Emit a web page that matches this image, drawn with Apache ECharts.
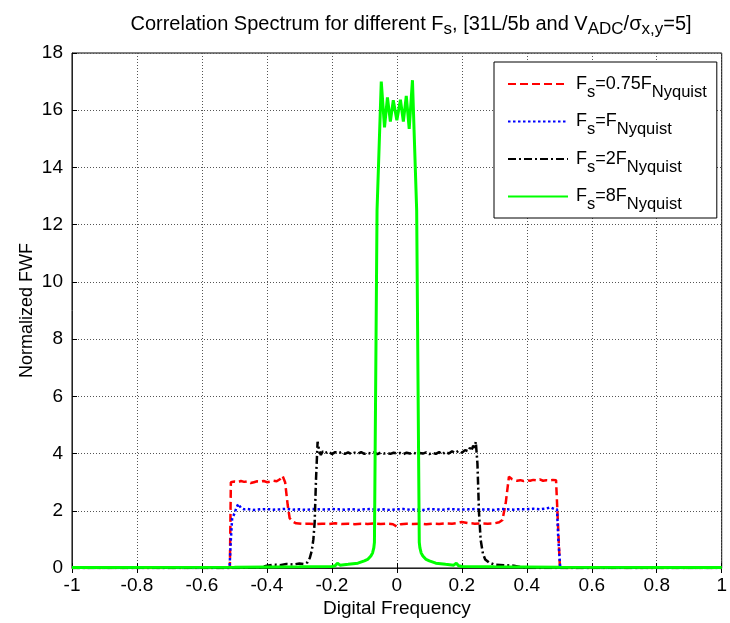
<!DOCTYPE html>
<html>
<head>
<meta charset="utf-8">
<script src="https://cdn.jsdelivr.net/npm/echarts@6/dist/echarts.min.js"></script>
<style>
html,body{margin:0;padding:0;background:#fff;}
#chart{width:730px;height:623px;}
</style>
</head>
<body>
<div id="chart"></div>
<script>
// ---- data (digital frequency, normalized FWF) ----
var xTicks = [-1, -0.8, -0.6, -0.4, -0.2, 0, 0.2, 0.4, 0.6, 0.8, 1];
var yTicks = [0, 2, 4, 6, 8, 10, 12, 14, 16, 18];

var seriesNames = ['Fs=0.75FNyquist', 'Fs=FNyquist', 'Fs=2FNyquist', 'Fs=8FNyquist'];
var legendLabels = [
  ['F', 's', '=0.75F', 'Nyquist'],
  ['F', 's', '=F', 'Nyquist'],
  ['F', 's', '=2F', 'Nyquist'],
  ['F', 's', '=8F', 'Nyquist']
];

var redPoints = [
  [-1,0],[-0.514,0],[-0.511,3.0],[-0.5,3.02],[-0.49,3.0],[-0.48,3.04],[-0.47,3.01],[-0.46,3.03],
  [-0.45,2.97],[-0.44,3.0],[-0.43,3.03],[-0.42,3.02],[-0.41,3.04],[-0.40,3.0],[-0.39,3.02],
  [-0.38,3.05],[-0.37,3.03],[-0.36,3.1],[-0.352,3.22],[-0.344,3.0],[-0.336,2.2],[-0.33,1.74],
  [-0.32,1.62],[-0.31,1.56],[-0.29,1.54],[-0.27,1.55],[-0.25,1.53],[-0.23,1.55],[-0.21,1.54],
  [-0.19,1.56],[-0.17,1.54],[-0.15,1.55],[-0.13,1.53],[-0.11,1.55],[-0.09,1.54],[-0.07,1.56],
  [-0.05,1.54],[-0.03,1.55],[-0.012,1.53],[0,1.45],[0.012,1.53],[0.03,1.55],[0.05,1.54],
  [0.07,1.55],[0.09,1.53],[0.11,1.55],[0.13,1.54],[0.15,1.56],[0.17,1.55],[0.19,1.58],
  [0.2,1.61],[0.22,1.57],[0.24,1.55],[0.26,1.56],[0.28,1.55],[0.3,1.56],[0.315,1.6],
  [0.325,1.68],[0.335,2.26],[0.345,3.19],[0.355,3.1],[0.37,3.05],[0.38,3.07],[0.39,3.04],
  [0.40,3.07],[0.41,3.05],[0.42,3.08],[0.43,3.06],[0.44,3.1],[0.45,3.05],[0.46,3.07],
  [0.47,3.06],[0.48,3.08],[0.49,3.07],[0.496,3.07],[0.502,0],[1,0]
];

var bluePoints = [
  [-1,0],[-0.515,0],[-0.511,1.0],[-0.507,1.74],[-0.5,1.9],[-0.494,2.1],[-0.488,2.24],[-0.48,2.1],
  [-0.47,2.05],[-0.46,2.06],[-0.44,2.03],[-0.42,2.05],[-0.40,2.06],[-0.38,2.04],[-0.36,2.05],
  [-0.34,2.07],[-0.32,2.04],[-0.30,2.05],[-0.28,2.03],[-0.26,2.06],[-0.24,2.05],[-0.22,2.04],
  [-0.20,2.06],[-0.18,2.05],[-0.16,2.04],[-0.14,2.06],[-0.12,2.03],[-0.10,2.05],[-0.08,2.06],
  [-0.06,2.04],[-0.04,2.05],[-0.02,2.03],[0,2.05],[0.02,2.06],[0.04,2.04],[0.06,2.05],
  [0.08,2.03],[0.10,2.06],[0.12,2.05],[0.14,2.04],[0.16,2.06],[0.18,2.05],[0.20,2.04],
  [0.22,2.05],[0.24,2.06],[0.26,2.04],[0.28,2.05],[0.30,2.03],[0.32,2.06],[0.34,2.05],
  [0.36,2.04],[0.38,2.06],[0.40,2.05],[0.42,2.07],[0.44,2.05],[0.46,2.08],[0.473,2.12],
  [0.485,2.06],[0.493,2.05],[0.497,1.0],[0.503,0],[1,0]
];

var blackPoints = [
  [-1,0],[-0.5,0],[-0.42,0.02],[-0.40,0.08],[-0.38,0.12],[-0.36,0.1],[-0.34,0.14],[-0.32,0.12],
  [-0.30,0.16],[-0.285,0.14],[-0.275,0.2],[-0.268,0.35],[-0.262,0.6],[-0.257,1.0],[-0.253,1.6],
  [-0.249,3.07],[-0.244,4.41],[-0.239,4.1],[-0.234,3.95],[-0.228,4.08],[-0.22,4.02],[-0.21,4.07],
  [-0.2,3.98],[-0.19,4.05],[-0.18,4.01],[-0.17,4.06],[-0.16,3.99],[-0.15,4.04],[-0.14,3.98],
  [-0.13,4.03],[-0.12,4.0],[-0.11,4.05],[-0.1,3.99],[-0.09,4.03],[-0.08,4.0],[-0.07,4.04],
  [-0.06,3.98],[-0.05,4.03],[-0.04,4.0],[-0.03,4.02],[-0.02,3.99],[-0.01,4.03],[0,4.0],
  [0.01,4.02],[0.02,3.98],[0.03,4.03],[0.04,4.0],[0.05,4.04],[0.06,3.99],[0.07,4.02],[0.08,4.0],
  [0.09,4.04],[0.1,3.98],[0.11,4.03],[0.12,3.99],[0.13,4.05],[0.14,3.97],[0.15,4.06],[0.16,4.0],
  [0.17,4.08],[0.18,4.02],[0.19,4.1],[0.2,4.03],[0.21,4.12],[0.22,4.08],[0.225,4.2],[0.23,4.12],
  [0.235,4.28],[0.239,4.2],[0.243,4.41],[0.248,3.66],[0.253,1.91],[0.258,0.98],[0.265,0.5],
  [0.272,0.3],[0.284,0.19],[0.3,0.12],[0.33,0.1],[0.36,0.08],[0.38,0.03],[0.4,0],[1,0]
];

var greenPoints = [
  [-1,0.02],[-0.5,0.03],[-0.3,0.04],[-0.2,0.05],[-0.19,0.08],[-0.183,0.17],[-0.175,0.1],
  [-0.15,0.13],[-0.12,0.17],[-0.1,0.25],[-0.09,0.3],[-0.08,0.42],[-0.075,0.52],[-0.071,0.7],
  [-0.069,0.9],[-0.061,12.5],[-0.048,17.0],[-0.038,15.4],[-0.029,16.45],[-0.02,15.6],
  [-0.011,16.35],[0,15.65],[0.011,16.37],[0.02,15.6],[0.029,16.5],[0.038,15.35],[0.048,17.05],
  [0.061,12.5],[0.069,0.9],[0.071,0.7],[0.075,0.52],[0.08,0.42],[0.09,0.3],[0.1,0.25],
  [0.12,0.17],[0.15,0.13],[0.175,0.1],[0.183,0.17],[0.19,0.08],[0.2,0.05],[0.3,0.04],
  [0.5,0.03],[1,0.02]
];

// ---- chart ----
var FONT = '"Liberation Sans", Arial, Helvetica, sans-serif';
var chart = echarts.init(document.getElementById('chart'), null, {renderer: 'canvas'});

var legendRich = {
  f: {fontSize: 18, fontFamily: FONT, color: '#000', padding: [0, 0, 0, 3]},
  m: {fontSize: 18, fontFamily: FONT, color: '#000'},
  s: {fontSize: 16.5, fontFamily: FONT, color: '#000', padding: [16, 0, 0, 0]}
};

function legendFmt(name) {
  var p = legendLabels[seriesNames.indexOf(name)];
  return '{f|' + p[0] + '}{s|' + p[1] + '}{m|' + p[2] + '}{s|' + p[3] + '}';
}

var axisLabelStyle = {fontSize: 19, fontFamily: FONT, color: '#000'};
var gridLineStyle = {color: '#555', width: 1, type: [1, 2]};

var option = {
  animation: false,
  backgroundColor: '#fff',
  title: {
    text: '{m|Correlation Spectrum for different F}{s|s}{m|, [31L/5b and V}{s|ADC}{m|/σ}{s|x,y}{m|=5]}',
    left: 406,
    top: 6,
    textAlign: 'center',
    textStyle: {
      fontWeight: 'normal',
      rich: {
        m: {fontSize: 20, fontFamily: FONT, fontWeight: 'normal', color: '#000'},
        s: {fontSize: 17, fontFamily: FONT, fontWeight: 'normal', color: '#000', padding: [10, 0, 0, 0]}
      }
    }
  },
  grid: {
    left: 72, right: 0, top: 53, bottom: 55,
    show: true, borderColor: '#000', borderWidth: 1, backgroundColor: '#fff'
  },
  legend: {
    data: seriesNames,
    orient: 'vertical',
    left: 494,
    top: 62,
    padding: [13, 10, 5, 13],
    itemWidth: 60,
    itemHeight: 14,
    itemGap: 12,
    backgroundColor: '#fff',
    borderColor: '#000',
    borderWidth: 1,
    borderRadius: 0,
    selectedMode: false,
    formatter: legendFmt,
    itemStyle: {opacity: 0, color: 'rgba(0,0,0,0)', borderWidth: 0},
    textStyle: {rich: legendRich}
  },
  xAxis: [{
    type: 'value', min: -1, max: 1, interval: 0.2,
    position: 'bottom',
    name: 'Digital Frequency', nameLocation: 'middle', nameGap: 31,
    nameMoveOverlap: false,
    nameTextStyle: {fontSize: 19, fontFamily: FONT, color: '#000'},
    axisLine: {show: true, onZero: false, lineStyle: {color: '#222', width: 1}},
    axisTick: {show: true, inside: true, length: 5, lineStyle: {color: '#000'}},
    axisLabel: Object.assign({margin: 8, showMinLabel: true, showMaxLabel: true}, axisLabelStyle),
    splitLine: {show: true, lineStyle: gridLineStyle}
  }, {
    type: 'value', min: -1, max: 1, interval: 0.2,
    position: 'top',
    axisLine: {show: false},
    axisTick: {show: true, inside: true, length: 5, lineStyle: {color: '#000'}},
    axisLabel: {show: false},
    splitLine: {show: false}
  }],
  yAxis: [{
    type: 'value', min: 0, max: 18, interval: 2,
    name: 'Normalized FWF', nameLocation: 'middle', nameGap: 36, nameRotate: 90,
    nameMoveOverlap: false,
    nameTextStyle: {fontSize: 18, fontFamily: FONT, color: '#000'},
    axisLine: {show: true, onZero: false, lineStyle: {color: '#222', width: 1}},
    axisTick: {show: true, inside: true, length: 5, lineStyle: {color: '#000'}},
    axisLabel: Object.assign({margin: 9}, axisLabelStyle),
    splitLine: {show: true, lineStyle: gridLineStyle}
  }],
  series: [
    {name: seriesNames[0], type: 'line', data: redPoints, symbol: 'none', showSymbol: false,
     lineStyle: {color: '#ff0000', width: 2.5, type: [8, 4]}, itemStyle: {color: '#ff0000'}},
    {name: seriesNames[1], type: 'line', data: bluePoints, symbol: 'none', showSymbol: false,
     lineStyle: {color: '#0000ff', width: 2.5, type: [2.5, 2.5]}, itemStyle: {color: '#0000ff'}},
    {name: seriesNames[2], type: 'line', data: blackPoints, symbol: 'none', showSymbol: false,
     lineStyle: {color: '#000000', width: 2.5, type: [8, 3, 2, 3]}, itemStyle: {color: '#000000'}},
    {name: seriesNames[3], type: 'line', data: greenPoints, symbol: 'none', showSymbol: false,
     lineStyle: {color: '#00ff00', width: 3, type: 'solid'}, itemStyle: {color: '#00ff00'}}
  ]
};
chart.setOption(option);
</script>
</body>
</html>
